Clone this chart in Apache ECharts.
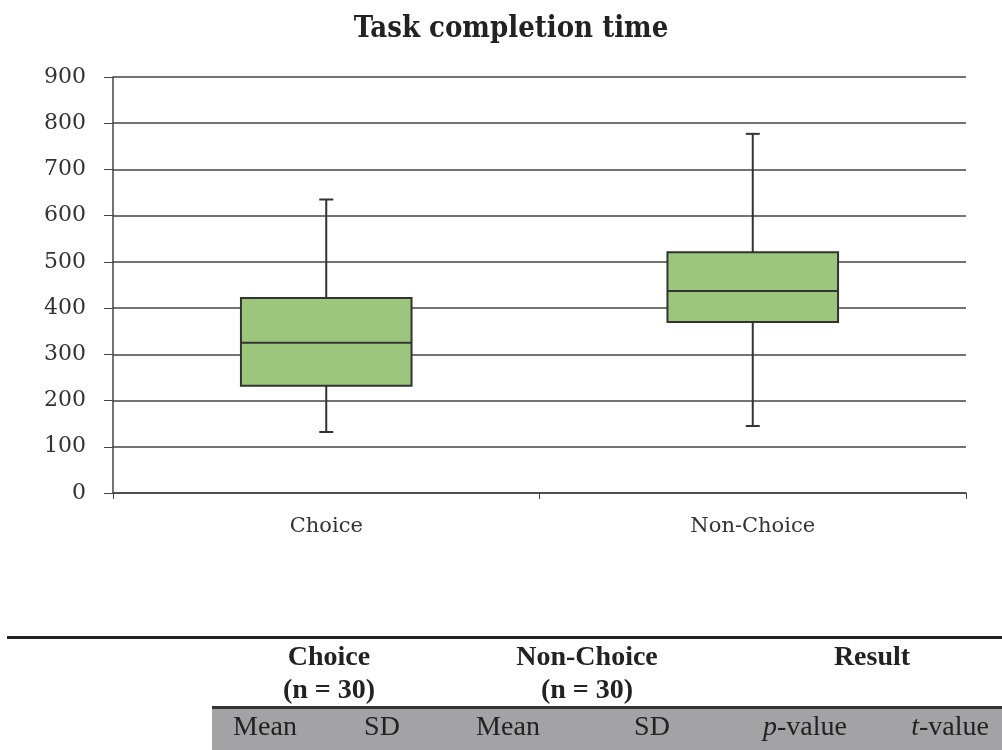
<!DOCTYPE html>
<html><head><meta charset="utf-8">
<script src="https://cdn.jsdelivr.net/npm/echarts@6/dist/echarts.min.js"></script>
<style>html,body{margin:0;padding:0;background:#fff}#c{width:1002px;height:750px}</style>
</head><body><div id="c"></div>
<script>
const categories = ['Choice', 'Non-Choice'];
// [min, Q1, median, Q3, max]
const boxValues = [
  [132, 232, 325, 422, 635],
  [145, 370, 437, 521, 777]
];
const yTicks = {min: 0, max: 900, interval: 100};
const tableGroups = ['Choice', 'Non-Choice', 'Result'];
const tableGroupN = ['(n = 30)', '(n = 30)', ''];
const tableCols = ['Mean', 'SD', 'Mean', 'SD', 'p-value', 't-value'];

const chart = echarts.init(document.getElementById('c'), null, {renderer: 'canvas'});
const tickFont = '"DejaVu Serif", serif';
const titleFont = '"DejaVu Serif Condensed", "DejaVu Serif", serif';
const tblFont = '"Liberation Serif", "Times New Roman", serif';

function renderBox(params, api) {
  const x = api.value(0);
  const vmin = api.value(1), q1 = api.value(2), med = api.value(3), q3 = api.value(4), vmax = api.value(5);
  const pMin = api.coord([x, vmin]), pQ1 = api.coord([x, q1]), pMed = api.coord([x, med]),
        pQ3 = api.coord([x, q3]), pMax = api.coord([x, vmax]);
  const bw = api.size([1, 0])[0] * 0.4;
  const cx = pMed[0];
  const cap = 7;
  const ls = {stroke: '#333', lineWidth: 2};
  return {
    type: 'group',
    children: [
      {type: 'line', shape: {x1: cx, y1: pMax[1], x2: cx, y2: pQ3[1]}, style: ls},
      {type: 'line', shape: {x1: cx, y1: pQ1[1], x2: cx, y2: pMin[1]}, style: ls},
      {type: 'line', shape: {x1: cx - cap, y1: pMax[1], x2: cx + cap, y2: pMax[1]}, style: ls},
      {type: 'line', shape: {x1: cx - cap, y1: pMin[1], x2: cx + cap, y2: pMin[1]}, style: ls},
      {type: 'rect', shape: {x: cx - bw / 2, y: pQ3[1], width: bw, height: pQ1[1] - pQ3[1]},
        style: {fill: '#9cc67c', stroke: '#333', lineWidth: 2}},
      {type: 'line', shape: {x1: cx - bw / 2, y1: pMed[1], x2: cx + bw / 2, y2: pMed[1]}, style: ls}
    ]
  };
}

const colX = [265, 382, 508, 652, 805, 950];
const groupX = [329, 587, 872];
const graphics = [
  {type: 'rect', shape: {x: 7, y: 636, width: 995, height: 3}, style: {fill: '#222'}},
  {type: 'rect', shape: {x: 212, y: 708, width: 790, height: 42}, style: {fill: '#a3a3a5'}},
  {type: 'rect', shape: {x: 212, y: 706, width: 790, height: 3}, style: {fill: '#333'}},
  {type: 'text', x: 511, y: 29, style: {text: 'Task completion time', font: 'bold 29px ' + titleFont, fill: '#222', textAlign: 'center', textVerticalAlign: 'middle'}}
];
tableGroups.forEach((g, i) => {
  graphics.push({type: 'text', x: groupX[i], y: 658, style: {text: g, font: 'bold 28px ' + tblFont, fill: '#222', textAlign: 'center', textVerticalAlign: 'middle'}});
  if (tableGroupN[i]) graphics.push({type: 'text', x: groupX[i], y: 691, style: {text: tableGroupN[i], font: 'bold 28px ' + tblFont, fill: '#222', textAlign: 'center', textVerticalAlign: 'middle'}});
});
tableCols.forEach((c, i) => {
  let rich = null, text = c;
  if (c.indexOf('-value') > 0) {
    text = '{i|' + c[0] + '}{n|-value}';
    rich = {i: {font: 'italic 28px ' + tblFont, fill: '#222'}, n: {font: '28px ' + tblFont, fill: '#222'}};
  }
  graphics.push({type: 'text', x: colX[i], y: 728, style: {text: text, rich: rich || undefined, font: '28px ' + tblFont, fill: '#222', textAlign: 'center', textVerticalAlign: 'middle'}});
});

chart.setOption({
  animation: false,
  backgroundColor: '#fff',
  grid: {left: 113, right: 36, top: 77, bottom: 257, containLabel: false},
  xAxis: {
    type: 'category', data: categories, boundaryGap: true,
    axisLine: {lineStyle: {color: '#444', width: 1.5}},
    axisTick: {show: true, length: 6, lineStyle: {color: '#444'}},
    axisLabel: {margin: 23, fontFamily: tickFont, fontSize: 21, color: '#333'}
  },
  yAxis: {
    type: 'value', min: yTicks.min, max: yTicks.max, interval: yTicks.interval,
    axisLine: {show: true, lineStyle: {color: '#444', width: 1.5}},
    axisTick: {show: true, length: 9, lineStyle: {color: '#444'}},
    axisLabel: {margin: 27, fontFamily: tickFont, fontSize: 22, color: '#333'},
    splitLine: {lineStyle: {color: '#444', width: 1.5}}
  },
  series: [{
    type: 'custom',
    renderItem: renderBox,
    encode: {x: 0, y: [1, 2, 3, 4, 5]},
    data: boxValues.map((v, i) => [i].concat(v))
  }],
  graphic: graphics
});
</script></body></html>
